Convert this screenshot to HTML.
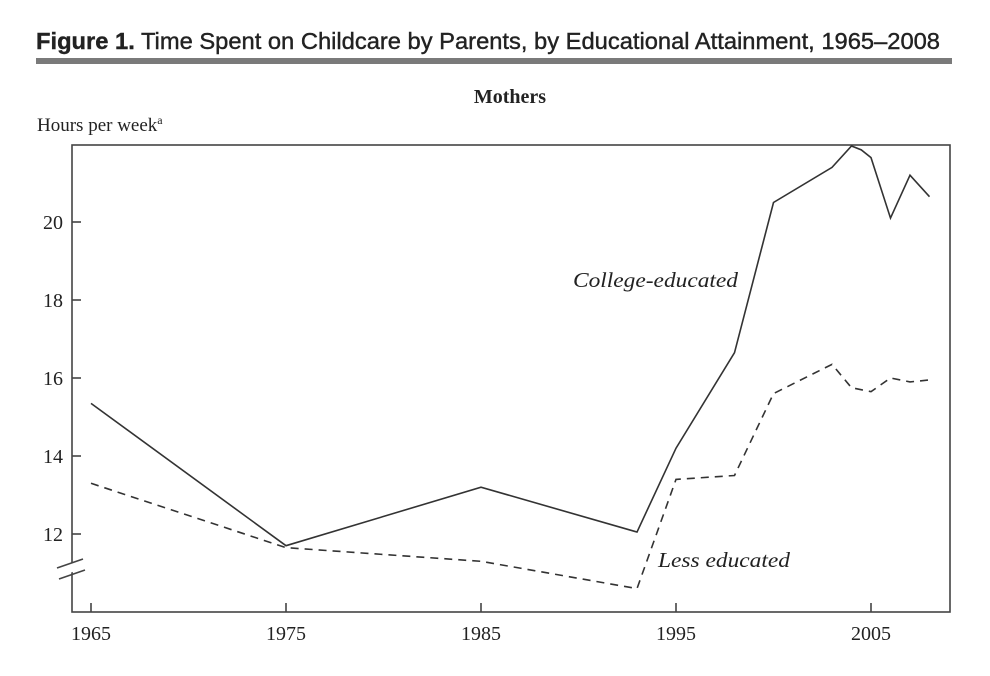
<!DOCTYPE html>
<html><head><meta charset="utf-8"><style>
body{margin:0;background:#fff;width:990px;height:676px;overflow:hidden}
svg{display:block}
</style></head><body>
<svg id="chart" width="990" height="676">
<text x="36" y="49" font-family="Liberation Sans, sans-serif" font-size="23" fill="#222" stroke="#222" stroke-width="0.4" textLength="904" lengthAdjust="spacingAndGlyphs"><tspan font-weight="bold">Figure 1.</tspan>  Time Spent on Childcare by Parents, by Educational Attainment, 1965–2008</text>
<rect x="36" y="58" width="916" height="6" fill="#7a7a7a"/>
<text x="510" y="103" text-anchor="middle" font-family="Liberation Serif, serif" font-size="20" font-weight="bold" fill="#222">Mothers</text>
<text x="37" y="131" font-family="Liberation Serif, serif" font-size="19" fill="#222">Hours per week<tspan font-size="12" dy="-7">a</tspan></text>
<rect x="72" y="145" width="878" height="467" fill="none" stroke="#444" stroke-width="1.6"/>
<g id="axes"></g>
<g id="series"></g>
<text x="573" y="287" font-family="Liberation Serif, serif" font-style="italic" font-size="21" fill="#222" textLength="165" lengthAdjust="spacingAndGlyphs">College-educated</text>
<text x="658" y="567" font-family="Liberation Serif, serif" font-style="italic" font-size="21" fill="#222" textLength="132" lengthAdjust="spacingAndGlyphs">Less educated</text>
<g>
<polygon points="58,568 84,559 84,568 58,577" fill="#fff"/>
<line x1="57" y1="568" x2="83" y2="559" stroke="#444" stroke-width="1.6"/>
<line x1="59" y1="579" x2="85" y2="570" stroke="#444" stroke-width="1.6"/>
</g>
</svg>
<script>
const years=[1965,1975,1985,1993,1995,1998,2000,2003,2004,2004.5,2005,2006,2007,2008];
const college=[15.35,11.7,13.2,12.05,14.2,16.65,20.5,21.4,21.95,21.85,21.65,20.1,21.2,20.65];
const lessYears=[1965,1975,1985,1993,1995,1998,2000,2003,2004,2005,2006,2007,2008];
const lessEd=[13.3,11.65,11.3,10.6,13.4,13.5,15.6,16.35,15.75,15.65,16.0,15.9,15.95];
const xTicks=[1965,1975,1985,1995,2005];
const yTicks=[12,14,16,18,20];
const NS='http://www.w3.org/2000/svg';
const xS=y=>91+(y-1965)*19.5;
const yS=v=>222+(20-v)*39;
const axes=document.getElementById('axes'),ser=document.getElementById('series');
function mk(t,a){const e=document.createElementNS(NS,t);for(const k in a)e.setAttribute(k,a[k]);return e;}
xTicks.forEach(t=>{
  const l=mk('line',{x1:xS(t),x2:xS(t),y1:612,y2:603,stroke:'#444','stroke-width':1.6});
  
  
  axes.appendChild(l);
  const tx=mk('text',{x:xS(t),y:640,'text-anchor':'middle','font-family':'Liberation Serif, serif','font-size':20,fill:'#222'});
  tx.textContent=t;
  
  
  axes.appendChild(tx);
});
yTicks.forEach(t=>{
  const l=mk('line',{x1:72,x2:81,y1:yS(t),y2:yS(t),stroke:'#444','stroke-width':1.6});
  
  
  axes.appendChild(l);
  const tx=mk('text',{x:63,y:yS(t)+7,'text-anchor':'end','font-family':'Liberation Serif, serif','font-size':20,fill:'#222'});
  tx.textContent=t;
  
  
  axes.appendChild(tx);
});
const p1=mk('polyline',{points:years.map((y,i)=>xS(y)+','+yS(college[i])).join(' '),fill:'none',stroke:'#333','stroke-width':1.6});


ser.appendChild(p1);
const p2=mk('polyline',{points:lessYears.map((y,i)=>xS(y)+','+yS(lessEd[i])).join(' '),fill:'none',stroke:'#333','stroke-width':1.6,'stroke-dasharray':'8,6'});


ser.appendChild(p2);
</script>
</body></html>
